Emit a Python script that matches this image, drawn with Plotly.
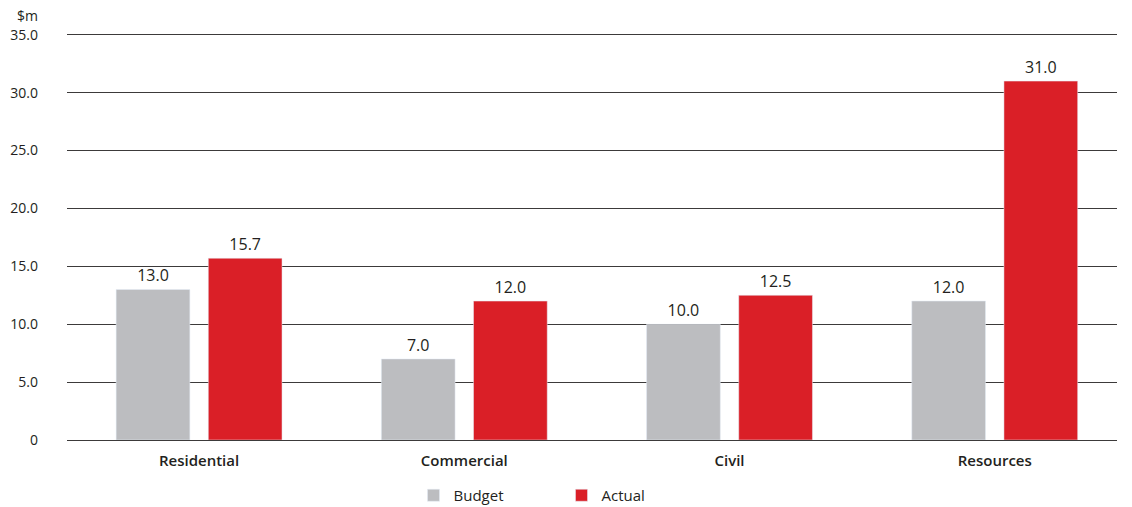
import plotly.graph_objects as go

categories = ["Residential", "Commercial", "Civil", "Resources"]
budget = [13.0, 7.0, 10.0, 12.0]
actual = [15.7, 12.0, 12.5, 31.0]
tick_vals = [0, 5, 10, 15, 20, 25, 30, 35]
tick_text = ["0", "5.0", "10.0", "15.0", "20.0", "25.0", "30.0", "35.0"]

GREY = "#BCBDC0"
RED = "#DA1F27"
INK = "#231F20"
GRID = "#3C3A3A"
FONT = "Open Sans"

fig = go.Figure()
fig.add_trace(go.Bar(
    name="Budget", x=categories, y=budget, marker_color=GREY,
    text=[f"{v:.1f}" for v in budget], textposition="outside",
    textfont=dict(size=16, color=INK, family=FONT), cliponaxis=False,
))
fig.add_trace(go.Bar(
    name="Actual", x=categories, y=actual, marker_color=RED,
    text=[f"{v:.1f}" for v in actual], textposition="outside",
    textfont=dict(size=16, color=INK, family=FONT), cliponaxis=False,
))

fig.update_layout(
    width=1132, height=507,
    margin=dict(l=67, r=15, t=29, b=67, autoexpand=False),
    paper_bgcolor="white", plot_bgcolor="white",
    barmode="group", bargap=0.305, bargroupgap=0.2,
    font=dict(family=FONT, color=INK, size=14),
    showlegend=True,
    legend=dict(
        orientation="h", x=0.330, xanchor="left", y=-0.135, yanchor="middle",
        font=dict(size=15, family=FONT, color=INK),
        itemwidth=30, entrywidth=103, traceorder="normal",
    ),
    xaxis=dict(
        showgrid=False, showline=False, ticks="",
        tickfont=dict(size=15, family=FONT, color=INK, weight=600),
        ticklabelstandoff=10,
        range=[-0.498, 3.461],
    ),
    yaxis=dict(
        range=[0, 35.5], tickvals=tick_vals, ticktext=tick_text,
        showgrid=True, gridcolor=GRID, gridwidth=1.3,
        zeroline=True, zerolinecolor=GRID, zerolinewidth=1.3,
        showline=False, ticks="", ticklabelstandoff=28,
        tickfont=dict(size=14, family=FONT, color=INK),
    ),
    annotations=[dict(
        text="$m", xref="paper", yref="paper", x=-0.026, y=1.0, yshift=14,
        xanchor="right", yanchor="middle", showarrow=False,
        font=dict(size=14, family=FONT, color=INK),
    )],
)

fig.write_html("out.html")
